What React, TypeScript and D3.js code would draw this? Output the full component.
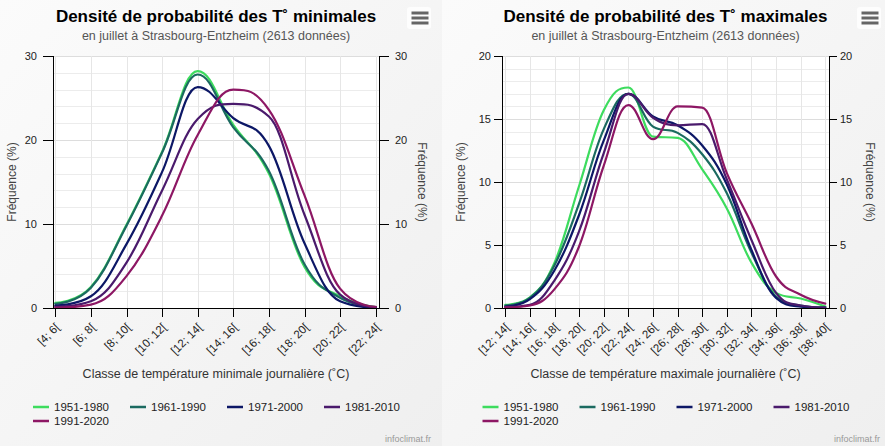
import React from 'react';
import * as d3 from 'd3';

const SERIES_NAMES = ['1951-1980', '1961-1990', '1971-2000', '1981-2010', '1991-2020'];
const SERIES_COLORS = ['#3ddc5e', '#1b6a60', '#0c1766', '#4a1a6c', '#8d1764'];

const MIN_CATEGORIES = ['[4; 6[', '[6; 8[', '[8; 10[', '[10; 12[', '[12; 14[', '[14; 16[', '[16; 18[', '[18; 20[', '[20; 22[', '[22; 24['];
const MIN_1951_1980 = [0.6, 2.5, 9.9, 18.6, 28.2, 21.8, 16.0, 4.9, 1.4, 0.1];
const MIN_1961_1990 = [0.5, 2.4, 9.8, 18.5, 27.8, 21.5, 16.3, 5.2, 1.2, 0.1];
const MIN_1971_2000 = [0.3, 1.4, 7.6, 16.2, 26.3, 22.6, 19.3, 7.7, 0.8, 0.05];
const MIN_1981_2010 = [0.15, 0.8, 5.4, 14.0, 22.5, 24.3, 22.8, 11.1, 1.6, 0.1];
const MIN_1991_2020 = [0.05, 0.4, 3.8, 11.0, 20.6, 26.0, 23.6, 13.4, 2.3, 0.15];

const MAX_CATEGORIES = ['[12; 14[', '[14; 16[', '[16; 18[', '[18; 20[', '[20; 22[', '[22; 24[', '[24; 26[', '[26; 28[', '[28; 30[', '[30; 32[', '[32; 34[', '[34; 36[', '[36; 38[', '[38; 40['];
const MAX_1951_1980 = [0.25, 0.85, 3.6, 9.7, 15.7, 17.5, 13.6, 13.5, 11.0, 7.9, 3.6, 1.2, 0.75, 0.12];
const MAX_1961_1990 = [0.2, 0.8, 3.4, 8.3, 14.2, 17.0, 14.4, 13.9, 12.2, 9.1, 4.4, 0.9, 0.2, 0.05];
const MAX_1971_2000 = [0.12, 0.7, 3.0, 7.4, 13.3, 17.0, 15.2, 14.5, 12.9, 9.8, 4.6, 0.8, 0.1, 0.0];
const MAX_1981_2010 = [0.08, 0.25, 2.2, 6.1, 12.3, 17.0, 15.1, 14.5, 14.6, 10.2, 5.4, 1.2, 0.2, 0.05];
const MAX_1991_2020 = [0.05, 0.2, 1.5, 4.9, 11.3, 16.1, 13.4, 16.0, 15.9, 10.7, 6.7, 2.5, 1.05, 0.35];

const FONT = '"Liberation Sans", Arial, sans-serif';

type Pt = [number, number];

function splinePath(pts: Pt[]): string {
  const p = d3.path();
  const sm = 1.5;
  const den = sm + 1;
  const ctrl = pts.map((pt, i) => {
    if (i === 0 || i === pts.length - 1) return null;
    const [x, y] = pt;
    const [lx, ly] = pts[i - 1];
    const [nx, ny] = pts[i + 1];
    const lcx = (sm * x + lx) / den;
    let lcy = (sm * y + ly) / den;
    const rcx = (sm * x + nx) / den;
    let rcy = (sm * y + ny) / den;
    let corr = 0;
    if (rcx !== lcx) corr = ((rcy - lcy) * (rcx - x)) / (rcx - lcx) + y - rcy;
    lcy += corr;
    rcy += corr;
    if (lcy > ly && lcy > y) { lcy = Math.max(ly, y); rcy = 2 * y - lcy; }
    else if (lcy < ly && lcy < y) { lcy = Math.min(ly, y); rcy = 2 * y - lcy; }
    if (rcy > ny && rcy > y) { rcy = Math.max(ny, y); lcy = 2 * y - rcy; }
    else if (rcy < ny && rcy < y) { rcy = Math.min(ny, y); lcy = 2 * y - rcy; }
    return { lcx, lcy, rcx, rcy };
  });
  p.moveTo(pts[0][0], pts[0][1]);
  for (let i = 1; i < pts.length; i++) {
    const prev = ctrl[i - 1];
    const cur = ctrl[i];
    const c1x = prev ? prev.rcx : pts[i - 1][0];
    const c1y = prev ? prev.rcy : pts[i - 1][1];
    const c2x = cur ? cur.lcx : pts[i][0];
    const c2y = cur ? cur.lcy : pts[i][1];
    p.bezierCurveTo(c1x, c1y, c2x, c2y, pts[i][0], pts[i][1]);
  }
  return p.toString();
}

interface ChartProps {
  title: string;
  subtitle: string;
  xTitle: string;
  categories: string[];
  series: number[][];
  x0: number; x1: number; y0: number; y1: number;
  firstX: number; lastX: number;
  yMax: number; yMajor: number; yMinor: number;
  tickLen: number; labelGap: number;
  leftTitleX: number; rightTitleX: number;
  menuX: number;
  creditX: number;
}

function Chart(props: ChartProps) {
  const { x0, x1, y0, y1, categories, series, yMax, yMajor, yMinor, tickLen, labelGap } = props;
  const cx = (x0 + x1) / 2;
  const xs = d3.scaleLinear().domain([0, categories.length - 1]).range([props.firstX, props.lastX]);
  const ys = d3.scaleLinear().domain([0, yMax]).range([y1, y0]);
  const minorTicks = d3.range(0, yMax + 0.001, yMinor);
  const majorTicks = d3.range(0, yMax + 0.001, yMajor);
  const r = (v: number) => Math.round(v) + 0.5;
  return (
    <g>
      <rect x={x0} y={y0} width={x1 - x0} height={y1 - y0} fill="#ffffff" />
      {minorTicks.map((t) => (
        <line key={'mi' + t} x1={x0} x2={x1} y1={r(ys(t))} y2={r(ys(t))} stroke="#ececec" strokeWidth={1} />
      ))}
      {majorTicks.map((t) => (
        <line key={'ma' + t} x1={x0} x2={x1} y1={r(ys(t))} y2={r(ys(t))} stroke="#dddddd" strokeWidth={1} />
      ))}
      {categories.map((c, i) => (
        <line key={'vg' + i} x1={r(xs(i))} x2={r(xs(i))} y1={y0} y2={y1} stroke="#e6e6e6" strokeWidth={1} />
      ))}
      {series.map((s, si) => (
        <path key={'s' + si}
          d={splinePath(s.map((v, i) => [xs(i), ys(v)] as Pt))}
          fill="none" stroke={SERIES_COLORS[si]} strokeWidth={2.2} strokeLinejoin="round" strokeLinecap="round" />
      ))}
      <line x1={r(x0)} x2={r(x0)} y1={y0} y2={y1 + 1} stroke="#000" />
      <line x1={r(x1)} x2={r(x1)} y1={y0} y2={y1 + 1} stroke="#000" />
      <line x1={x0 - tickLen} x2={x1 + tickLen} y1={r(y1)} y2={r(y1)} stroke="#000" />
      {majorTicks.map((t) => (
        <g key={'yt' + t}>
          <line x1={x0 - tickLen} x2={x0} y1={r(ys(t))} y2={r(ys(t))} stroke="#000" />
          <line x1={x1} x2={x1 + tickLen} y1={r(ys(t))} y2={r(ys(t))} stroke="#000" />
          <text x={x0 - tickLen - labelGap} y={ys(t) + 4} textAnchor="end" fontSize={11} fill="#222">{t}</text>
          <text x={x1 + tickLen + labelGap} y={ys(t) + 4} textAnchor="start" fontSize={11} fill="#222">{t}</text>
        </g>
      ))}
      {categories.map((c, i) => (
        <g key={'xt' + i}>
          <line x1={r(xs(i))} x2={r(xs(i))} y1={y1} y2={y1 + 9} stroke="#000" />
          <text transform={`translate(${xs(i) + 5},${y1 + 20}) rotate(-45)`} textAnchor="end" fontSize={11.5} fill="#222">{c}</text>
        </g>
      ))}
      <text transform={`translate(${props.leftTitleX},${(y0 + y1) / 2}) rotate(-90)`} textAnchor="middle" fontSize={12} fill="#444">Fréquence (%)</text>
      <text transform={`translate(${props.rightTitleX},${(y0 + y1) / 2}) rotate(90)`} textAnchor="middle" fontSize={12} fill="#444">Fréquence (%)</text>
      <text x={cx} y={378} textAnchor="middle" fontSize={12.5} fill="#333">{props.xTitle}</text>
      <text x={cx} y={22} textAnchor="middle" fontSize={17} fontWeight="bold" fill="#000">{props.title}</text>
      <text x={cx} y={40} textAnchor="middle" fontSize={12.5} fill="#555">{props.subtitle}</text>
      {SERIES_NAMES.map((n, i) => {
        const lx = cx - 183 + (i % 4) * 97;
        const ly = 407 + Math.floor(i / 4) * 14;
        return (
          <g key={'lg' + i}>
            <line x1={lx} x2={lx + 16} y1={ly} y2={ly} stroke={SERIES_COLORS[i]} strokeWidth={2.5} />
            <text x={lx + 21} y={ly + 4} fontSize={11.5} fill="#222">{n}</text>
          </g>
        );
      })}
      <rect x={props.menuX} y={7} width={24} height={22} rx={3} fill="#fdfdfd" />
      {[13, 18, 23].map((yy) => (
        <line key={'m' + yy} x1={props.menuX + 4.5} x2={props.menuX + 21.5} y1={yy} y2={yy} stroke="#666" strokeWidth={3} />
      ))}
      <text x={props.creditX} y={442} textAnchor="end" fontSize={9} fill="#999">infoclimat.fr</text>
    </g>
  );
}

export default function App() {
  return (
    <div style={{ position: 'fixed', left: 0, top: 0 }}>
      <svg width={885} height={446} style={{ display: 'block', fontFamily: FONT }}>
        <defs>
          <linearGradient id="bg" x1="0" y1="0" x2="1" y2="1">
            <stop offset="0" stopColor="#fbfbfb" />
            <stop offset="1" stopColor="#efefef" />
          </linearGradient>
        </defs>
        <rect x={0} y={0} width={442} height={446} fill="url(#bg)" />
        <rect x={442} y={0} width={443} height={446} fill="url(#bg)" />
        <Chart
          title="Densité de probabilité des T˚ minimales"
          subtitle="en juillet à Strasbourg-Entzheim (2613 données)"
          xTitle="Classe de température minimale journalière (˚C)"
          categories={MIN_CATEGORIES}
          series={[MIN_1951_1980, MIN_1961_1990, MIN_1971_2000, MIN_1981_2010, MIN_1991_2020]}
          x0={53} x1={379} y0={56} y1={308}
          firstX={55.3} lastX={375.7}
          yMax={30} yMajor={10} yMinor={2}
          tickLen={10} labelGap={6}
          leftTitleX={16} rightTitleX={418}
          menuX={407} creditX={431}
        />
        <Chart
          title="Densité de probabilité des T˚ maximales"
          subtitle="en juillet à Strasbourg-Entzheim (2613 données)"
          xTitle="Classe de température maximale journalière (˚C)"
          categories={MAX_CATEGORIES}
          series={[MAX_1951_1980, MAX_1961_1990, MAX_1971_2000, MAX_1981_2010, MAX_1991_2020]}
          x0={502} x1={829} y0={56} y1={308}
          firstX={505.3} lastX={825.3}
          yMax={20} yMajor={5} yMinor={1}
          tickLen={8} labelGap={3}
          leftTitleX={465} rightTitleX={866}
          menuX={857} creditX={880}
        />
      </svg>
    </div>
  );
}
